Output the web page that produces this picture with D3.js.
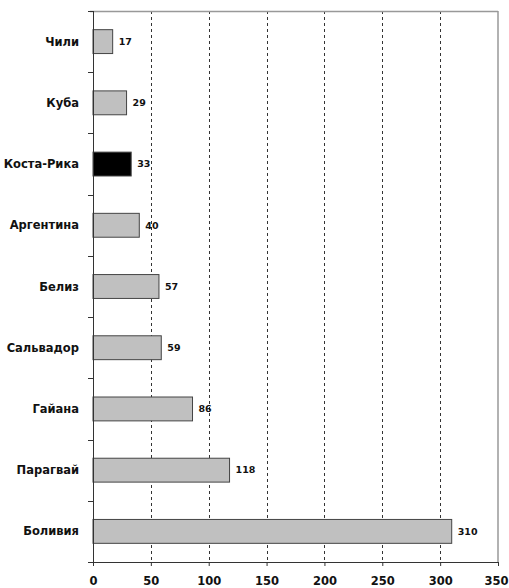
<!DOCTYPE html>
<html><head><meta charset="utf-8">
<script src="https://cdn.jsdelivr.net/npm/d3@7"></script>
<style>body{margin:0;background:#fff}svg{display:block}</style>
</head><body>
<script>
const categories = ["Чили","Куба","Коста-Рика","Аргентина","Белиз","Сальвадор","Гайана","Парагвай","Боливия"];
const values = [17,29,33,40,57,59,86,118,310];
const highlight = "Коста-Рика";
const xTicks = [0,50,100,150,200,250,300,350];

const W=509,H=588;
const m={left:93,right:11,top:11,bottom:26};
const svg=d3.select("body").append("svg").attr("width",W).attr("height",H);
const x=d3.scaleLinear().domain([0,350]).range([m.left,W-m.right]);
const y=d3.scaleBand().domain(categories).range([m.top,H-m.bottom]).paddingInner(0.61).paddingOuter(0.305);
const font="'DejaVu Sans', Verdana, sans-serif";

// grid
svg.append("g").selectAll("line").data(xTicks.filter(d=>d>0&&d<350)).join("line")
 .attr("x1",d=>Math.round(x(d))+0.5).attr("x2",d=>Math.round(x(d))+0.5)
 .attr("y1",m.top).attr("y2",H-m.bottom)
 .attr("stroke","#333").attr("stroke-width",1).attr("stroke-dasharray","3,3");
// frame top & right
svg.append("line").attr("x1",m.left-3).attr("x2",x(350)).attr("y1",m.top+0.5).attr("y2",m.top+0.5).attr("stroke","#999").attr("stroke-width",1.5);
svg.append("line").attr("x1",x(350)).attr("x2",x(350)).attr("y1",m.top).attr("y2",H-m.bottom).attr("stroke","#999").attr("stroke-width",1.5);

// bars
svg.append("g").selectAll("rect").data(categories).join("rect")
 .attr("x",x(0)).attr("y",d=>y(d)).attr("width",(d,i)=>x(values[i])-x(0)).attr("height",y.bandwidth())
 .attr("fill",d=>d===highlight?"#000":"#c0c0c0").attr("stroke","#444").attr("stroke-width",1);

// value labels
svg.append("g").selectAll("text").data(categories).join("text")
 .attr("x",(d,i)=>x(values[i])+6).attr("y",d=>y(d)+y.bandwidth()/2).attr("dy","0.35em")
 .attr("font-family",font).attr("font-weight","bold").attr("font-size",9.5).attr("fill","#111")
 .text((d,i)=>values[i]);

// x axis
const xa=svg.append("g").attr("transform",`translate(0,${H-m.bottom})`)
 .call(d3.axisBottom(x).tickValues(xTicks).tickSize(4).tickSizeOuter(0));
xa.select(".domain").attr("stroke","#333");
xa.selectAll(".tick line").attr("stroke","#333");
xa.selectAll("text").attr("font-family",font).attr("font-weight","bold").attr("font-size",11.5).attr("fill","#111")
 .attr("y",22.5).attr("dy",0);
// keep the last label inside the page
xa.selectAll(".tick").filter(d=>d===350).select("text").attr("text-anchor","end").attr("x",W-1-x(350));

// y axis line + boundary ticks
svg.append("line").attr("x1",m.left+0.5).attr("x2",m.left+0.5).attr("y1",m.top).attr("y2",H-m.bottom).attr("stroke","#333");
const bounds=d3.range(categories.length+1).map(i=>m.top+ (H-m.bottom-m.top)*i/categories.length);
svg.append("g").selectAll("line").data(bounds).join("line")
 .attr("x1",m.left-5).attr("x2",m.left).attr("y1",d=>Math.round(d)+0.5).attr("y2",d=>Math.round(d)+0.5).attr("stroke","#333");

// category labels
svg.append("g").selectAll("text").data(categories).join("text")
 .attr("x",79).attr("y",d=>y(d)+y.bandwidth()/2).attr("dy","0.35em").attr("text-anchor","end")
 .attr("font-family",font).attr("font-weight","bold").attr("font-size",11.5).attr("fill","#111")
 .text(d=>d);
</script>
</body></html>
